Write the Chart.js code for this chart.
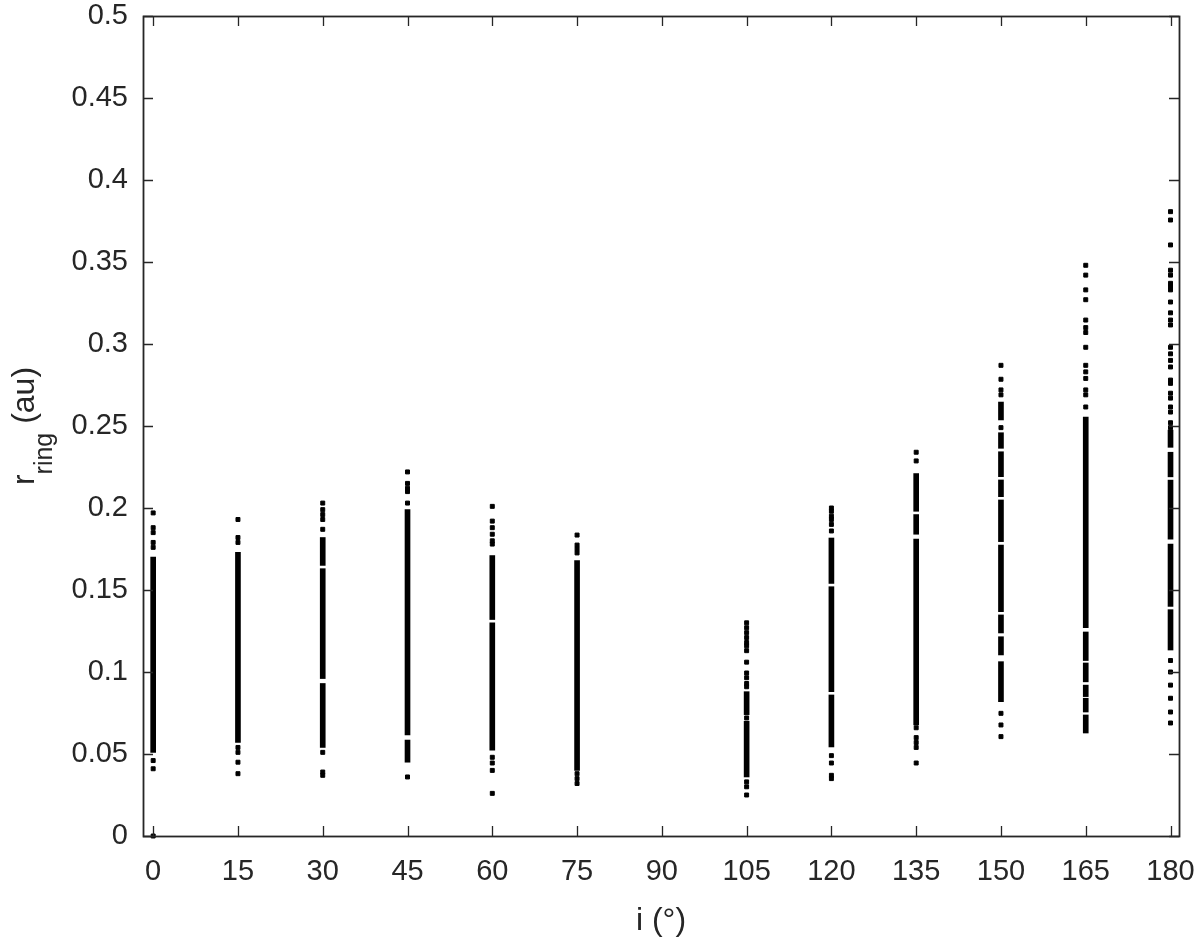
<!DOCTYPE html>
<html>
<head>
<meta charset="utf-8">
<script src="https://cdn.jsdelivr.net/npm/chart.js@4.4.1/dist/chart.umd.min.js"></script>
<style>
  html, body { margin: 0; padding: 0; background: #fff; }
  #wrap { width: 1200px; height: 949px; }
</style>
</head>
<body>
<div id="wrap"><canvas id="ringChart" width="1200" height="949"></canvas></div>
<script>
// inclinations (deg) that were simulated
const incl = [0, 15, 30, 45, 60, 75, 105, 120, 135, 150, 165, 180];

// stretches of r_ring (au) where the dots overlap into a solid column
const denseRuns = [
  [[0.051, 0.170]],
  [[0.057, 0.173]],
  [[0.054, 0.093], [0.096, 0.163], [0.165, 0.182]],
  [[0.045, 0.0585], [0.0616, 0.199]],
  [[0.0524, 0.130], [0.132, 0.171]],
  [[0.040, 0.168]],
  [[0.036, 0.070], [0.074, 0.088]],
  [[0.0543, 0.086], [0.088, 0.152], [0.154, 0.1817]],
  [[0.0677, 0.181], [0.184, 0.196], [0.198, 0.221]],
  [[0.0819, 0.1063], [0.1104, 0.1215], [0.1238, 0.1348], [0.1368, 0.1774], [0.1795, 0.2049],
   [0.2069, 0.2171], [0.2191, 0.2343], [0.2364, 0.2459], [0.2537, 0.2646]],
  [[0.0628, 0.0738], [0.0756, 0.084], [0.085, 0.092], [0.094, 0.1055], [0.107, 0.1244], [0.127, 0.2555]],
  [[0.1134, 0.138], [0.140, 0.178], [0.181, 0.217], [0.219, 0.234], [0.237, 0.2475]]
];

// isolated r_ring values (au) outside the solid columns
const looseR = [
  [0.197, 0.188, 0.185, 0.179, 0.176, 0.046, 0.041, 0.0],
  [0.193, 0.182, 0.179, 0.054, 0.051, 0.045, 0.038],
  [0.203, 0.199, 0.196, 0.193, 0.187, 0.051, 0.039, 0.037],
  [0.222, 0.215, 0.212, 0.210, 0.203, 0.036],
  [0.201, 0.192, 0.188, 0.184, 0.180, 0.178, 0.048, 0.0445, 0.040, 0.026],
  [0.1835, 0.1774, 0.175, 0.1726, 0.038, 0.035, 0.032],
  [0.130, 0.127, 0.124, 0.121, 0.118, 0.116, 0.113, 0.106, 0.0994, 0.0965, 0.093, 0.091, 0.072,
   0.033, 0.030, 0.025],
  [0.200, 0.198, 0.195, 0.193, 0.190, 0.186, 0.049, 0.0445, 0.037, 0.035],
  [0.234, 0.2287, 0.066, 0.060, 0.057, 0.054, 0.0445],
  [0.287, 0.2785, 0.272, 0.269, 0.249, 0.0748, 0.0677, 0.0606],
  [0.348, 0.342, 0.333, 0.327, 0.3146, 0.310, 0.307, 0.298, 0.287, 0.283, 0.279, 0.272, 0.269, 0.2616],
  [0.3807, 0.3756, 0.3604, 0.345, 0.342, 0.337, 0.335, 0.333, 0.3256, 0.319, 0.3146, 0.3116,
   0.298, 0.294, 0.290, 0.286, 0.278, 0.276, 0.270, 0.267, 0.2616, 0.2585, 0.252, 0.249,
   0.107, 0.100, 0.092, 0.084, 0.0756, 0.0689]
];

const xTicks = [0, 15, 30, 45, 60, 75, 90, 105, 120, 135, 150, 165, 180];
const yTicks = [0, 0.05, 0.1, 0.15, 0.2, 0.25, 0.3, 0.35, 0.4, 0.45, 0.5];

const axisColor = "#262626";
const tickFont = { family: "'Liberation Sans', Arial, sans-serif", size: 29 };

// build datasets from the arrays above
const runData = [];
const dotData = [];
incl.forEach(function (x, k) {
  denseRuns[k].forEach(function (run) { runData.push({ x: x, y: run }); });
  looseR[k].forEach(function (r) { dotData.push({ x: x, y: r }); });
});

// box + inward ticks on all four sides, MATLAB style
const boxTicks = {
  id: "boxTicks",
  afterDraw(chart) {
    const ctx = chart.ctx;
    const a = chart.chartArea;
    const xs = chart.scales.x;
    const ys = chart.scales.y;
    const len = 10;
    ctx.save();
    ctx.strokeStyle = axisColor;
    ctx.lineWidth = 1.3;
    xTicks.forEach(function (t) {
      const px = Math.round(xs.getPixelForValue(t)) + 0.5;
      ctx.beginPath();
      ctx.moveTo(px, a.bottom); ctx.lineTo(px, a.bottom - len);
      ctx.moveTo(px, a.top); ctx.lineTo(px, a.top + len);
      ctx.stroke();
    });
    yTicks.forEach(function (t) {
      const py = Math.round(ys.getPixelForValue(t)) + 0.5;
      ctx.beginPath();
      ctx.moveTo(a.left, py); ctx.lineTo(a.left + len, py);
      ctx.moveTo(a.right, py); ctx.lineTo(a.right - len, py);
      ctx.stroke();
    });
    ctx.lineWidth = 1.8;
    ctx.strokeRect(Math.round(a.left) + 0.5, Math.round(a.top) + 0.5,
      Math.round(a.right - a.left), Math.round(a.bottom - a.top));
    ctx.restore();
  }
};

// y title with subscript: r_ring (au)
const yTitle = {
  id: "yTitle",
  afterDraw(chart) {
    const ctx = chart.ctx;
    const a = chart.chartArea;
    const main = "32px 'Liberation Sans', Arial, sans-serif";
    const sub = "25px 'Liberation Sans', Arial, sans-serif";
    ctx.save();
    ctx.fillStyle = axisColor;
    ctx.textBaseline = "alphabetic";
    ctx.font = main;
    const wR = ctx.measureText("r").width;
    const wTail = ctx.measureText(" (au)").width;
    ctx.font = sub;
    const wSub = ctx.measureText("ring").width;
    const total = wR + wSub + wTail;
    ctx.translate(34, (a.top + a.bottom) / 2);
    ctx.rotate(-Math.PI / 2);
    let u = -total / 2;
    ctx.font = main;
    ctx.fillText("r", u, 0);
    u += wR;
    ctx.font = sub;
    ctx.fillText("ring", u, 18);
    u += wSub;
    ctx.font = main;
    ctx.fillText(" (au)", u, 0);
    ctx.restore();
  }
};

const ctx = document.getElementById("ringChart").getContext("2d");
const ringChart = new Chart(ctx, {
  type: "scatter",
  data: {
    datasets: [
      {
        type: "bar",
        data: runData,
        backgroundColor: "#000",
        borderWidth: 0,
        barThickness: 5,
        grouped: false
      },
      {
        type: "scatter",
        data: dotData,
        pointStyle: "rect",
        pointRadius: 2.8,
        pointBorderWidth: 1,
        pointBackgroundColor: "#000",
        pointBorderColor: "#000",
        clip: false
      }
    ]
  },
  options: {
    responsive: false,
    animation: false,
    layout: { padding: { top: 16, right: 21, bottom: 0, left: 0 } },
    plugins: {
      legend: { display: false },
      tooltip: { enabled: false }
    },
    scales: {
      x: {
        type: "linear",
        min: -1.8,
        max: 181.5,
        offset: false,
        afterBuildTicks(scale) { scale.ticks = xTicks.map(function (v) { return { value: v }; }); },
        afterFit(scale) {
          scale.height = 113;
          scale.paddingLeft = 0;
          scale.paddingRight = 0;
        },
        grid: { display: false, drawTicks: false },
        border: { display: false },
        ticks: {
          color: axisColor,
          font: tickFont,
          padding: 19,
          maxRotation: 0,
          autoSkip: false,
          callback: function (v) { return String(v); }
        },
        title: {
          display: true,
          text: "i (°)",
          color: axisColor,
          font: { family: "'Liberation Sans', Arial, sans-serif", size: 32 },
          padding: { top: 0, bottom: 9 }
        }
      },
      y: {
        type: "linear",
        min: 0,
        max: 0.5,
        afterBuildTicks(scale) { scale.ticks = yTicks.map(function (v) { return { value: v }; }); },
        afterFit(scale) {
          scale.width = 143;
          scale.paddingTop = 0;
          scale.paddingBottom = 0;
        },
        grid: { display: false, drawTicks: false },
        border: { display: false },
        ticks: {
          color: axisColor,
          font: tickFont,
          padding: 15,
          autoSkip: false,
          callback: function (v) { return String(+v.toFixed(2)); }
        }
      }
    }
  },
  plugins: [boxTicks, yTitle]
});
</script>
</body>
</html>
